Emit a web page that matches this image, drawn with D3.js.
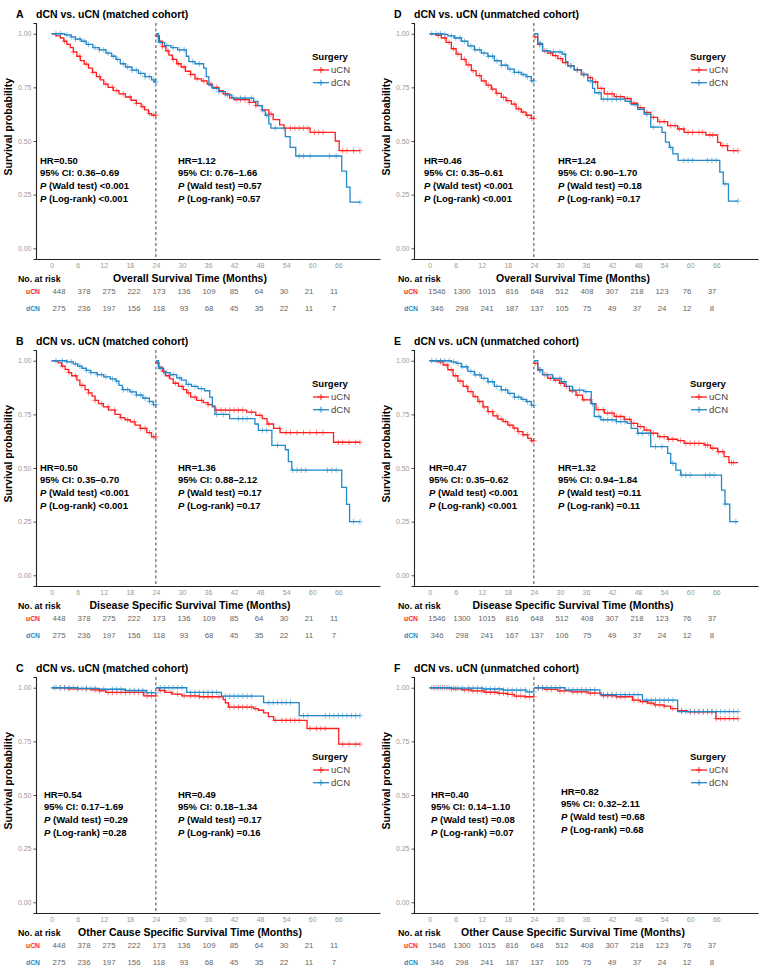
<!DOCTYPE html>
<html>
<head>
<meta charset="utf-8">
<script src="https://cdn.jsdelivr.net/npm/d3@7"></script>
<style>
  body { margin: 0; background: #fff; }
  svg { display: block; font-family: "Liberation Sans", Arial, Helvetica, sans-serif; }
</style>
</head>
<body>
<div id="chart"></div>
<script>
// ---- data ----
const xTicks = [0, 6, 12, 18, 24, 30, 36, 42, 48, 54, 60, 66];
const yTicks = [0, 0.25, 0.5, 0.75, 1];
const groups = ['uCN', 'dCN'];

// numbers at risk
const riskM_uCN = [448, 378, 275, 222, 173, 136, 109, 85, 64, 30, 21, 11];
const riskM_dCN = [275, 236, 197, 156, 118, 93, 68, 45, 35, 22, 11, 7];
const riskU_uCN = [1546, 1300, 1015, 816, 648, 512, 408, 307, 218, 123, 76, 37];
const riskU_dCN = [346, 298, 241, 187, 137, 105, 75, 49, 37, 24, 12, 8];
const riskE_dCN = [346, 298, 241, 167, 137, 106, 75, 49, 37, 24, 12, 8];

// HR, CI, P wald, P log-rank  (before 24 m, after 24 m)
const statA = [['0.50', '0.36–0.69', '<0.001', '<0.001'], ['1.12', '0.76–1.66', '=0.57', '=0.57']];
const statB = [['0.50', '0.35–0.70', '<0.001', '<0.001'], ['1.36', '0.88–2.12', '=0.17', '=0.17']];
const statC = [['0.54', '0.17–1.69', '=0.29', '=0.28'], ['0.49', '0.18–1.34', '=0.17', '=0.16']];
const statD = [['0.46', '0.35–0.61', '<0.001', '<0.001'], ['1.24', '0.90–1.70', '=0.18', '=0.17']];
const statE = [['0.47', '0.35–0.62', '<0.001', '<0.001'], ['1.32', '0.94–1.84', '=0.11', '=0.11']];
const statF = [['0.40', '0.14–1.10', '=0.08', '=0.07'], ['0.82', '0.32–2.11', '=0.68', '=0.68']];

// KM steps [month, survival]; _0 = 0-24 m, _24 = landmark 24 m onward
const A_uCN_0 = [[0,1],[1,0.99],[2,0.98],[2.8,0.965],[3.5,0.95],[4.3,0.935],[5,0.915],[5.8,0.895],[6.6,0.875],[7.5,0.858],[8.5,0.84],[9.4,0.82],[10.3,0.8],[11.2,0.785],[12,0.765],[13,0.75],[14.2,0.735],[15.5,0.72],[17,0.705],[18.3,0.69],[19.5,0.675],[20.6,0.66],[21.4,0.645],[22.3,0.628],[23,0.62]];
const A_dCN_0 = [[0,1],[3,0.995],[4.5,0.985],[5.5,0.975],[6.8,0.965],[8,0.95],[9.5,0.935],[11,0.925],[12.5,0.91],[13.8,0.895],[14.8,0.88],[15.8,0.86],[17,0.845],[18.5,0.83],[20,0.815],[21.5,0.8],[23,0.785],[23.6,0.775]];
const A_uCN_24 = [[24,0.99],[24.8,0.965],[25.5,0.94],[26.3,0.92],[27,0.9],[27.8,0.88],[28.8,0.86],[29.8,0.845],[30.8,0.825],[32,0.81],[33,0.79],[34.5,0.78],[35.8,0.765],[37,0.75],[38.5,0.735],[39.5,0.72],[41,0.7],[42,0.693],[45.5,0.68],[47,0.665],[48.5,0.645],[50,0.625],[51,0.6],[52.5,0.575],[53.5,0.56],[59.5,0.54],[65.3,0.5],[66.2,0.455]];
const A_dCN_24 = [[24,1],[24.6,0.96],[26,0.945],[27.5,0.935],[29,0.925],[31,0.895],[31.6,0.87],[33,0.86],[35,0.84],[35.6,0.8],[36.2,0.76],[37,0.745],[38.5,0.73],[40,0.715],[41.5,0.7],[46.5,0.685],[47.5,0.665],[48.5,0.64],[49.2,0.62],[50,0.58],[50.5,0.56],[53.8,0.52],[54.9,0.47],[56.2,0.43],[66.8,0.36],[67.9,0.285],[68.7,0.215]];

const B_uCN_0 = [[0,1],[1.5,0.99],[2.3,0.975],[3.1,0.96],[3.9,0.945],[4.6,0.93],[5.8,0.91],[6.5,0.885],[7.7,0.865],[8.5,0.85],[9.3,0.835],[10,0.815],[10.8,0.8],[11.9,0.785],[13.1,0.77],[14.6,0.75],[15.8,0.735],[16.9,0.725],[18.1,0.715],[19.2,0.7],[20.4,0.685],[21.9,0.665],[23,0.645]];
const B_dCN_0 = [[0,1],[3.5,0.995],[5,0.985],[6,0.975],[7,0.965],[8,0.955],[9,0.945],[10.5,0.935],[12,0.925],[13.5,0.915],[14.8,0.905],[15.5,0.885],[16.3,0.865],[18,0.855],[19.5,0.84],[21,0.825],[22.5,0.81],[23.4,0.795]];
const B_uCN_24 = [[24,0.99],[24.7,0.97],[25.5,0.95],[26.2,0.93],[27.2,0.915],[28,0.895],[29.2,0.88],[30.3,0.865],[31.1,0.85],[32,0.83],[33.4,0.815],[34.9,0.805],[36,0.795],[37,0.785],[37.6,0.77],[44.9,0.76],[47,0.745],[48.5,0.73],[49.6,0.705],[51.1,0.685],[52.6,0.665],[64.9,0.62]];
const B_dCN_24 = [[24,1],[24.6,0.965],[25.8,0.945],[27.3,0.935],[28.8,0.92],[29.9,0.91],[31,0.89],[32.2,0.88],[33.7,0.87],[35.2,0.86],[36.4,0.83],[37,0.79],[37.6,0.75],[41,0.73],[46.8,0.705],[47.6,0.675],[50.7,0.605],[53.8,0.585],[54.5,0.53],[55.3,0.49],[66.8,0.41],[67.9,0.33],[68.6,0.25]];

const C_uCN_0 = [[0,1],[4,0.995],[9,0.99],[11,0.985],[12.5,0.978],[21.2,0.962]];
const C_dCN_0 = [[0,1],[6,0.997],[11,0.993],[17,0.987],[21.8,0.977]];
const C_uCN_24 = [[24,1],[24.8,0.987],[26.1,0.978],[27.7,0.97],[30,0.962],[34,0.958],[39.5,0.945],[40,0.93],[40.7,0.91],[46.5,0.903],[47.6,0.895],[48.8,0.883],[49.9,0.865],[51.1,0.848],[58.8,0.81],[66.1,0.737]];
const C_dCN_24 = [[24,1],[31.1,0.978],[39.1,0.961],[48.8,0.931],[57,0.87]];

const D_uCN_0 = [[0,1],[1.5,0.993],[2.7,0.98],[3.8,0.96],[5,0.93],[6.1,0.905],[7.3,0.88],[8.4,0.855],[9.6,0.828],[10.7,0.805],[11.9,0.78],[13,0.76],[14.2,0.742],[15.3,0.722],[16.5,0.703],[17.6,0.688],[18.8,0.672],[19.9,0.65],[21.1,0.635],[22.2,0.62],[23.4,0.605]];
const D_dCN_0 = [[0,1],[3,0.997],[4.2,0.99],[5.7,0.98],[7.3,0.965],[8.8,0.943],[10.3,0.925],[11.9,0.91],[13.4,0.895],[14.9,0.874],[16.5,0.853],[18,0.835],[19.5,0.82],[21.1,0.81],[22.2,0.8],[23.4,0.78]];
const D_uCN_24 = [[24,0.985],[24.9,0.95],[26,0.92],[27.2,0.91],[28.3,0.898],[29.5,0.884],[30.6,0.865],[31.8,0.85],[33.3,0.833],[34.9,0.81],[36.4,0.795],[37.5,0.775],[38.7,0.745],[40.2,0.72],[42.5,0.707],[44.8,0.698],[46.4,0.676],[47.9,0.656],[49.4,0.633],[50.9,0.61],[52.5,0.59],[54.8,0.572],[57.1,0.556],[58.6,0.54],[63.6,0.528],[66.3,0.494],[67,0.478],[68.6,0.455]];
const D_dCN_24 = [[24,1],[24.9,0.955],[26,0.92],[27.8,0.915],[30.5,0.905],[31.3,0.87],[31.8,0.85],[33.3,0.83],[35,0.81],[36.4,0.78],[37.5,0.745],[38,0.725],[39.5,0.695],[45,0.685],[46.4,0.67],[47.9,0.648],[49.4,0.625],[50.9,0.565],[53.5,0.54],[54.3,0.495],[55.2,0.47],[56,0.44],[57.2,0.41],[66.8,0.355],[67.6,0.3],[68.8,0.22]];

const E_uCN_0 = [[0,1],[1.9,0.995],[3.1,0.98],[4.2,0.958],[5.4,0.93],[6.5,0.905],[7.7,0.88],[8.8,0.856],[10,0.833],[11.1,0.81],[12.3,0.785],[13.4,0.763],[14.6,0.743],[15.7,0.728],[16.9,0.716],[18,0.7],[19.2,0.686],[20.3,0.67],[21.5,0.655],[22.6,0.638],[23.4,0.627]];
const E_dCN_0 = [[0,1],[5,0.995],[6.1,0.988],[7.3,0.972],[8.8,0.95],[10.3,0.934],[11.9,0.918],[13.4,0.902],[14.9,0.88],[16.5,0.864],[18,0.848],[19.5,0.83],[21.1,0.82],[22.2,0.81],[23.4,0.793]];
const E_uCN_24 = [[24,0.988],[24.9,0.957],[26,0.935],[27.2,0.918],[28.7,0.91],[29.9,0.895],[31,0.88],[32.2,0.86],[33.7,0.84],[35.2,0.818],[37.2,0.8],[38.3,0.772],[40.2,0.756],[42.5,0.74],[44.8,0.727],[46.4,0.708],[47.9,0.693],[49.4,0.677],[50.9,0.662],[52.5,0.646],[54.8,0.634],[57.1,0.628],[58.6,0.615],[63.2,0.607],[64.7,0.592],[66.3,0.576],[67.8,0.553],[68.9,0.525]];
const E_dCN_24 = [[24,1],[24.9,0.957],[26,0.935],[28.3,0.918],[30.3,0.902],[31.4,0.88],[32.9,0.863],[35.5,0.856],[37.2,0.8],[37.9,0.74],[39.4,0.725],[43,0.716],[45.5,0.708],[46.4,0.685],[47.9,0.662],[50.9,0.6],[54.8,0.568],[55.5,0.522],[56.7,0.49],[57.8,0.467],[67.2,0.397],[68,0.332],[69.1,0.25]];

const F_uCN_0 = [[0,1],[5,0.995],[7.3,0.99],[9.6,0.985],[12.6,0.979],[15.7,0.974],[18,0.969],[19.5,0.961],[22,0.958]];
const F_dCN_0 = [[0,1],[5,0.998],[12.3,0.994],[16.9,0.989],[22.2,0.981]];
const F_uCN_24 = [[24,1],[26.4,0.992],[29.5,0.985],[32.6,0.981],[36.5,0.975],[39.5,0.963],[43,0.958],[46.7,0.942],[48.5,0.935],[50.2,0.928],[51.7,0.92],[54,0.914],[55.5,0.903],[57.1,0.893],[59.4,0.888],[65.9,0.856]];
const F_dCN_24 = [[24,1],[31.2,0.99],[39.2,0.968],[49,0.942],[57.1,0.889]];

// censoring times (months)
const A_uCN_0_c = [3,5,6.5,8,9.5,11,12.5,14,15,16.5,18,19.5,21,22.5,23.5,24];
const A_dCN_0_c = [1,2,3.5,4.5,5.5,6.5,7.5,8.5,10,11,12,13,14.2,15.2,16.5,17.5,18.5,19.5,20.5,21.5,22.5,23.5,24];
const A_uCN_24_c = [24.3,25.5,26.8,28,29.2,30.5,32,33.5,35,36.5,38,40,42.5,43.5,44.5,45.5,47,48.5,50.5,53.5,55,56,57,58,59,60.5,61.5,62.5,67,68,69.5,71];
const A_dCN_24_c = [25,26.5,28,29.5,30.5,32.5,34,36.8,38.5,40.5,42,43.5,44.5,46,49.5,51.5,57,58,59.5,64,65.5,71];
const B_uCN_0_c = [2.5,4,5.5,7,8.5,10,11.5,13,14.5,16,17.5,19,20.5,21.5,22.5,23.5,24];
const B_dCN_0_c = [1,2.5,3.5,4.5,5.5,6.5,8,9,10.5,11.5,12.5,14,15,16.5,17.5,18.5,19.5,20.5,21.5,22.5,23.5,24];
const B_uCN_24_c = [24.4,25.8,27,28.5,30,31.5,33,34.5,36,38,39,40,41,42,43,44,46,48,50,52.5,54,55,56.5,58,59.5,61,62.5,66,67,68.5,70,71];
const B_dCN_24_c = [25,26.5,28,29.5,31.5,33,34.5,38,39.5,43,44,45,48.5,49.5,52,55.5,56.5,57.5,58.5,63.5,64.5,65.5,69.5,71];
const C_uCN_0_c = [2,3,4,6,8,10,11,13,14,15,16,17,18,19,20,21,22,23,24];
const C_dCN_0_c = [0.5,1,2,3,4,5,6,7,8,9,10,12,14,15,16,17,18,19,20,21,22,23,24];
const C_uCN_24_c = [25,26,27.5,29,30.5,32,33,34,35,36,37,38.5,41,42,43,44,45,46,47,51.5,53,54,55,56,57,59.5,61,62,63,67,68.5,70,71];
const C_dCN_24_c = [25,26,27,28,29,30,32,33,34,35,36,37,38,40,41,42,43,44,45,46,50,51,52,53,54,55,58,59,63,64,65,66,67,68,69,70,71];
const D_uCN_0_c = [2,3.5,4.5,5.5,6.5,8,9,10,11.5,12.5,13.5,14.5,15.5,17,18,19.5,20.5,21.5,22.5,23.5,24];
const D_dCN_0_c = [0.5,1.5,2.5,3.5,5,6,7,8,9.5,10.5,11.5,12.5,13.5,14.5,15.5,16.5,17.5,18.5,19.5,20.5,21.5,22.5,23.5,24];
const D_uCN_24_c = [24.3,25.3,26.5,27.8,29,30.2,31.3,32.5,34,35.5,37,38.2,39.5,41,42,43,44,45.5,47,48.5,50,51.5,53,54,55.5,56.5,57.5,58.5,59.5,60.5,62,62.8,64.5,65.2,67.5,68.5,70,71];
const D_dCN_24_c = [25.5,27,28.5,30,31,32.5,34,35.5,37,39,40,41,42,43,44,46,47.5,50,51.5,55.5,58.5,59.5,60.5,64,65,66,68,71];
const E_uCN_0_c = [2.5,4,5,6,7,8.5,9.5,10.5,11.5,12.5,13.5,14.5,15.5,16.5,17.5,18.5,19.5,20.5,21.5,22.5,23.5,24];
const E_dCN_0_c = [0.5,1.5,2.5,3.5,4.5,5.5,6.5,7.5,8.5,9.5,10.5,11.5,12.5,13.5,14.5,15.5,16.5,17.5,18.5,19.5,20.5,21.5,22.5,23.5,24];
const E_uCN_24_c = [24.3,25.3,26.5,27.8,29,30.2,31.5,32.8,34,35.5,37,38.8,40,41,42,43,44,45,46,47,48.5,50,51.5,53,54,55,56,57.8,59,60,61,62,63.5,64,65.2,66.5,67.5,69.5,70];
const E_dCN_24_c = [25.5,27,28.5,30,31,33,34.5,36,37.5,39,40,41,42,43,44,45,48,49,50.5,52,53.5,56,58,59,60,63.5,64.5,65.5,68,70.5];
const F_uCN_0_c = [1,2,3,4,5,6,8,9,10,11,12,13,14,15,16,17,18,19,20,21,22,23,24];
const F_dCN_0_c = [0.5,1.5,2.5,3.5,4.5,5.5,6.5,7.5,9,10,11,12,13,14,15,16,17,18,19,20,21,22,23,24];
const F_uCN_24_c = [25,26,27,28,30,31,33,34,35,36,37,38,40,41,42,43,44,45,47,48,49,50,51,52,53,54,56,58,60,61,62,63,64,65,66,67,68,69,70,71];
const F_dCN_24_c = [25,26,27,28,29,30,32,33,34,35,36,37,38,40,41,42,43,44,45,46,47,48,50,51,52,53,54,55,56,58,59,60,61,62,63,64,65,66,67,68,69,70,71];

// ---- layout ----
const width = 769, height = 973;
const plotW = 344, plotH = 236;
const colX = [36, 414], rowY = [23, 350, 677];
const colMid = [190, 573], colLeft = [18, 398];
const color = {uCN: '#ff1f1f', dCN: '#2389c9'};
const font = '"Liberation Sans", Arial, Helvetica, sans-serif';

const panels = [
  {letter: 'A', col: 0, row: 0, cohort: 'matched', xlab: 'Overall Survival Time (Months)', stat: statA, risk: [riskM_uCN, riskM_dCN],
   curves: [[A_uCN_0, A_uCN_0_c, A_uCN_24, A_uCN_24_c], [A_dCN_0, A_dCN_0_c, A_dCN_24, A_dCN_24_c]],
   noteX: [4, 142], noteY: [137, 137], legY: 33},
  {letter: 'B', col: 0, row: 1, cohort: 'matched', xlab: 'Disease Specific Survival Time (Months)', stat: statB, risk: [riskM_uCN, riskM_dCN],
   curves: [[B_uCN_0, B_uCN_0_c, B_uCN_24, B_uCN_24_c], [B_dCN_0, B_dCN_0_c, B_dCN_24, B_dCN_24_c]],
   noteX: [4, 142], noteY: [117, 117], legY: 33},
  {letter: 'C', col: 0, row: 2, cohort: 'matched', xlab: 'Other Cause Specific Survival Time (Months)', stat: statC, risk: [riskM_uCN, riskM_dCN],
   curves: [[C_uCN_0, C_uCN_0_c, C_uCN_24, C_uCN_24_c], [C_dCN_0, C_dCN_0_c, C_dCN_24, C_dCN_24_c]],
   noteX: [8, 142], noteY: [117, 117], legY: 79},
  {letter: 'D', col: 1, row: 0, cohort: 'unmatched', xlab: 'Overall Survival Time (Months)', stat: statD, risk: [riskU_uCN, riskU_dCN],
   curves: [[D_uCN_0, D_uCN_0_c, D_uCN_24, D_uCN_24_c], [D_dCN_0, D_dCN_0_c, D_dCN_24, D_dCN_24_c]],
   noteX: [10, 144], noteY: [137, 137], legY: 33},
  {letter: 'E', col: 1, row: 1, cohort: 'unmatched', xlab: 'Disease Specific Survival Time (Months)', stat: statE, risk: [riskU_uCN, riskE_dCN],
   curves: [[E_uCN_0, E_uCN_0_c, E_uCN_24, E_uCN_24_c], [E_dCN_0, E_dCN_0_c, E_dCN_24, E_dCN_24_c]],
   noteX: [15, 144], noteY: [117, 117], legY: 33},
  {letter: 'F', col: 1, row: 2, cohort: 'unmatched', xlab: 'Other Cause Specific Survival Time (Months)', stat: statF, risk: [riskU_uCN, riskU_dCN],
   curves: [[F_uCN_0, F_uCN_0_c, F_uCN_24, F_uCN_24_c], [F_dCN_0, F_dCN_0_c, F_dCN_24, F_dCN_24_c]],
   noteX: [17, 147], noteY: [117, 114], legY: 79}
];

const svg = d3.select('#chart').append('svg')
  .attr('width', width).attr('height', height)
  .style('font-family', font);

// scales shared by all panels (x in months, y in survival)
const x = d3.scaleLinear([-3.6, 75.6], [0, plotW]);
const y = d3.scaleLinear([-0.05, 1.05], [plotH, 0]);
const riskX = d3.scaleLinear([0, 66], [23, 23 + 275]);

const stepLine = d3.line()
  .x(d => x(d[0]))
  .y(d => y(d[1]))
  .curve(d3.curveStepAfter);

function survAt(steps, t) {
  let s = steps[0][1];
  steps.forEach(d => { if (d[0] <= t) s = d[1]; });
  return s;
}

function drawPanel(p) {
  const ox = colX[p.col], oy = rowY[p.row];
  const g = svg.append('g').attr('transform', `translate(${ox},${oy})`);

  // title
  g.append('text').attr('x', -20).attr('y', -5)
    .style('font-size', '10.5px').style('font-weight', 'bold').text(p.letter);
  g.append('text').attr('x', 0).attr('y', -5)
    .style('font-size', '10.5px').style('font-weight', 'bold')
    .text(`dCN vs. uCN (${p.cohort} cohort)`);

  // axes
  const xAxis = g.append('g').attr('transform', `translate(0,${plotH})`)
    .call(d3.axisBottom(x).tickValues(xTicks).tickSize(0).tickPadding(4));
  const yAxis = g.append('g')
    .call(d3.axisLeft(y).tickValues(yTicks).tickFormat(d3.format('.2f')).tickSize(2.5).tickPadding(2));
  [xAxis, yAxis].forEach(a => {
    a.select('.domain').attr('stroke', '#222').attr('stroke-width', 1.1);
    a.selectAll('.tick line').attr('stroke', '#555');
    a.selectAll('.tick text').attr('fill', '#9a9a9a').style('font-size', '7px').style('font-family', font);
  });

  // y title
  g.append('text')
    .attr('transform', `translate(-24,${y(1) + 93}) rotate(-90)`)
    .attr('text-anchor', 'middle')
    .style('font-size', '10.5px').style('font-weight', 'bold')
    .text('Survival probability');

  // landmark line
  g.append('line')
    .attr('x1', x(24)).attr('x2', x(24)).attr('y1', 0).attr('y2', plotH)
    .attr('stroke', '#333').attr('stroke-width', 0.9).attr('stroke-dasharray', '3,2.5');

  // curves + censor marks
  p.curves.forEach((c, gi) => {
    const col = color[groups[gi]];
    [[c[0], c[1], 24], [c[2], c[3], 71]].forEach(([steps, cens, tEnd]) => {
      const pts = steps.concat([[tEnd, steps[steps.length - 1][1]]]);
      g.append('path').datum(pts)
        .attr('d', stepLine)
        .attr('fill', 'none').attr('stroke', col).attr('stroke-width', 1.3);
      g.selectAll(null).data(cens).enter().append('path')
        .attr('transform', t => `translate(${x(t)},${y(survAt(steps, t))})`)
        .attr('d', 'M-2.8,0H2.8M0,-2.8V2.8')
        .attr('stroke', col).attr('stroke-width', 1).attr('opacity', 0.55);
    });
  });

  // legend
  const lg = g.append('g').attr('transform', `translate(276,${p.legY})`);
  lg.append('text').attr('y', 3.5).style('font-size', '9.5px').style('font-weight', 'bold').text('Surgery');
  groups.forEach((k, i) => {
    const yy = 14 + i * 12.7;
    lg.append('line').attr('x1', 1).attr('x2', 17).attr('y1', yy).attr('y2', yy)
      .attr('stroke', color[k]).attr('stroke-width', 1.3);
    lg.append('path').attr('d', `M6,${yy}H12M9,${yy - 3}V${yy + 3}`)
      .attr('stroke', color[k]).attr('stroke-width', 1);
    lg.append('text').attr('x', 19).attr('y', yy + 3.4)
      .style('font-size', '9.5px').attr('fill', '#444').text(k);
  });

  // HR annotations
  p.stat.forEach((s, i) => {
    const t = g.append('text').attr('x', p.noteX[i]).attr('y', p.noteY[i] + 3.5)
      .style('font-size', '9.5px').style('font-weight', 'bold');
    const lines = [
      [null, `HR=${s[0]}`],
      [null, `95% CI: ${s[1]}`],
      ['P', ` (Wald test) ${s[2]}`],
      ['P', ` (Log-rank) ${s[3]}`]
    ];
    lines.forEach((l, j) => {
      const first = t.append('tspan').attr('x', p.noteX[i]).attr('dy', j === 0 ? 0 : 12.8);
      if (l[0]) {
        first.style('font-style', 'italic').text(l[0]);
        t.append('tspan').text(l[1]);
      } else {
        first.text(l[1]);
      }
    });
  });

  // x title
  svg.append('text')
    .attr('x', colMid[p.col]).attr('y', oy + 259)
    .attr('text-anchor', 'middle')
    .style('font-size', '10.5px').style('font-weight', 'bold')
    .text(p.xlab);

  // risk table
  svg.append('text').attr('x', colLeft[p.col]).attr('y', oy + 258.5)
    .style('font-size', '8.8px').style('font-weight', 'bold').text('No. at risk');
  groups.forEach((k, i) => {
    const yy = oy + 268 + i * 17 + 2.6;
    g.append('text').attr('x', -3).attr('y', yy - oy)
      .attr('text-anchor', 'middle')
      .style('font-size', '6.8px').style('font-weight', 'bold').attr('fill', color[k]).text(k);
    g.selectAll(null).data(p.risk[i]).enter().append('text')
      .attr('x', (d, j) => riskX(xTicks[j]))
      .attr('y', yy - oy)
      .attr('text-anchor', 'middle')
      .style('font-size', '7.8px').attr('fill', '#666')
      .text(d => d);
  });
}

panels.forEach(drawPanel);
</script>
</body>
</html>
